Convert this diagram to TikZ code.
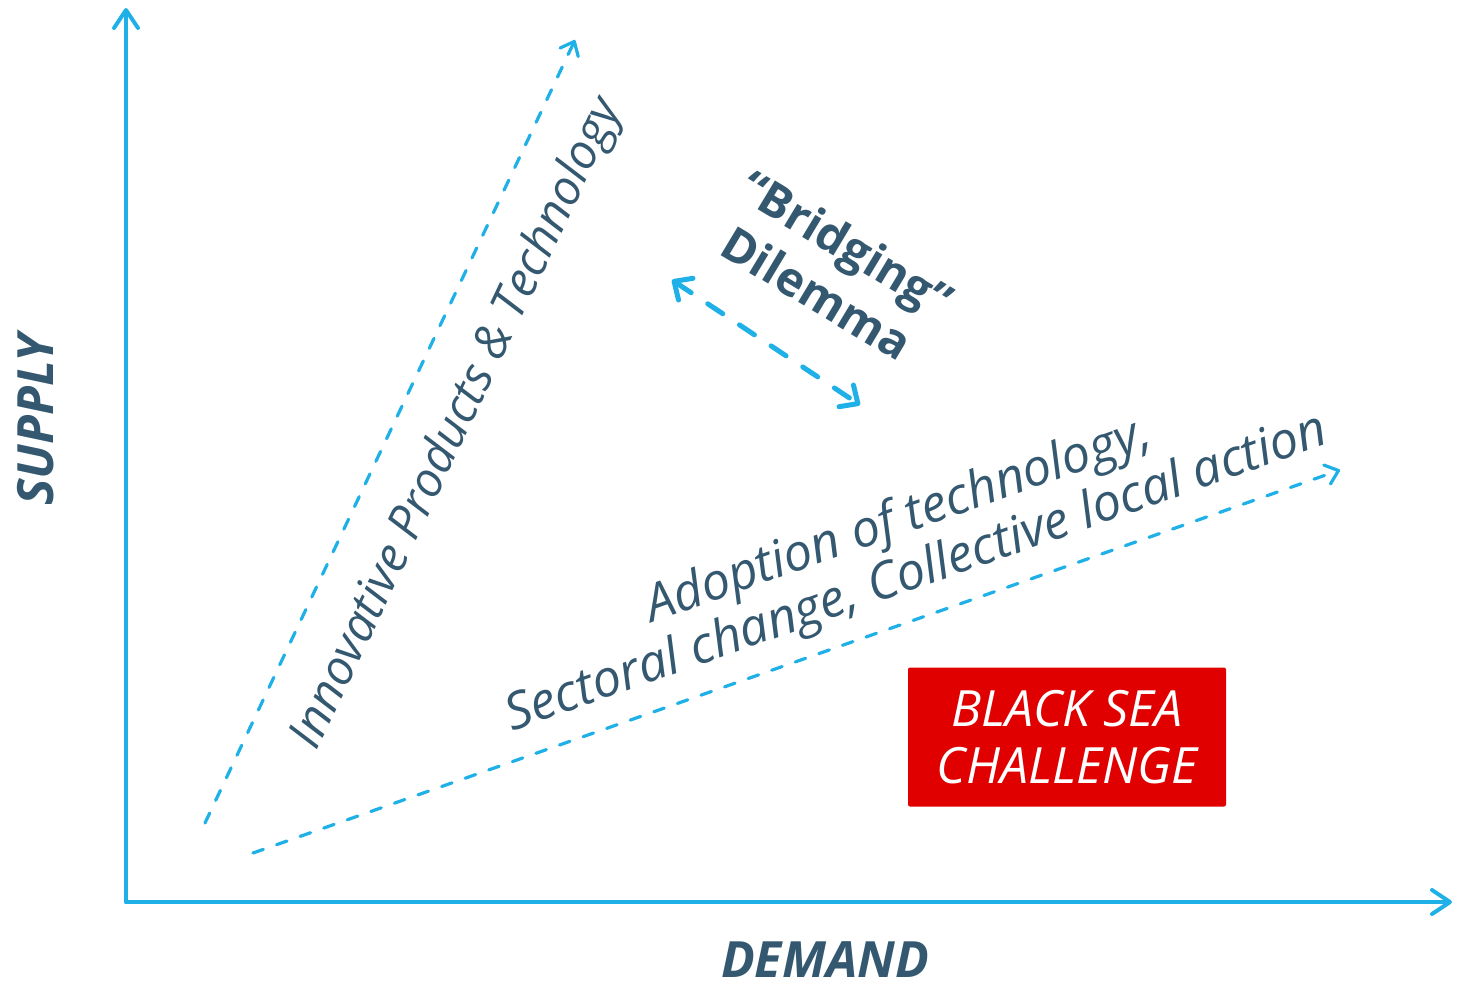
\documentclass[tikz,border=0pt]{standalone}
\usepackage{fontspec}
\setmainfont{Open Sans}
\usetikzlibrary{arrows.meta}

\definecolor{axisblue}{RGB}{30,176,230}
\definecolor{textblue}{RGB}{52,88,112}
\definecolor{boxred}{RGB}{224,0,0}

\begin{document}
\begin{tikzpicture}[x=1pt, y=-1pt]
\tikzstyle{axis} = [line width=4pt, draw=axisblue, line cap=round, -{Straight Barb[length=18pt, width=24pt, line width=4pt, round]}]
\tikzstyle{trend} = [line width=3.2pt, draw=axisblue, line cap=round, dash pattern=on 11pt off 14pt, -{Straight Barb[length=12pt, width=20pt, line width=3.2pt, round]}]
\tikzstyle{bridge} = [line width=5pt, draw=axisblue, line cap=round, dash pattern=on 18pt off 20pt, {Straight Barb[length=14pt, width=26pt, line width=5pt, round]}-{Straight Barb[length=14pt, width=26pt, line width=5pt, round]}]
\tikzstyle{axislabel} = [text=textblue, font=\fontsize{50}{56}\selectfont\bfseries\itshape]
\tikzstyle{trendlabel} = [text=textblue, font=\fontsize{48}{55}\selectfont\itshape, align=center]
\tikzstyle{dilemma} = [text=textblue, font=\fontsize{47}{58}\selectfont\bfseries, align=center]
\tikzstyle{challenge} = [rectangle, rounded corners=2pt, minimum width=318pt, minimum height=139pt, fill=boxred, text=white, font=\fontsize{50}{57}\selectfont\itshape, align=center]

    \useasboundingbox (0,0) rectangle (1460,987);

    % axes
    \coordinate (origin) at (126,902);
    \coordinate (ytop) at (126,8);
    \coordinate (xend) at (1452,902);
    \draw [axis] (origin) -- (ytop);
    \draw [axis] (origin) -- (xend);

    \node (supply) at (36,420) [axislabel, rotate=90] {SUPPLY};
    \node (demand) at (825,960) [axislabel] {DEMAND};

    % trends
    \coordinate (innostart) at (205,823);
    \coordinate (innoend) at (575,40);
    \coordinate (adoptstart) at (253,853);
    \coordinate (adoptend) at (1340,470);
    \draw [trend] (innostart) -- (innoend);
    \draw [trend] (adoptstart) -- (adoptend);

    \node (innov) at (458,424) [trendlabel, rotate=64.7] {Innovative Products \& Technology};
    \node (adopt) at (908,548) [trendlabel, rotate=19.4, font=\fontsize{51}{56}\selectfont\itshape] {Adoption of technology,\\Sectoral change, Collective local action};

    % bridging
    \coordinate (bridgea) at (672,280);
    \coordinate (bridgeb) at (860,405);
    \draw [bridge] (bridgea) -- (bridgeb);
    \node (dilemma) at (832,268) [dilemma, rotate=-31] {“Bridging”\\Dilemma};

    \node (challenge) at (1067,737) [challenge] {BLACK SEA\\CHALLENGE};
\end{tikzpicture}
\end{document}
